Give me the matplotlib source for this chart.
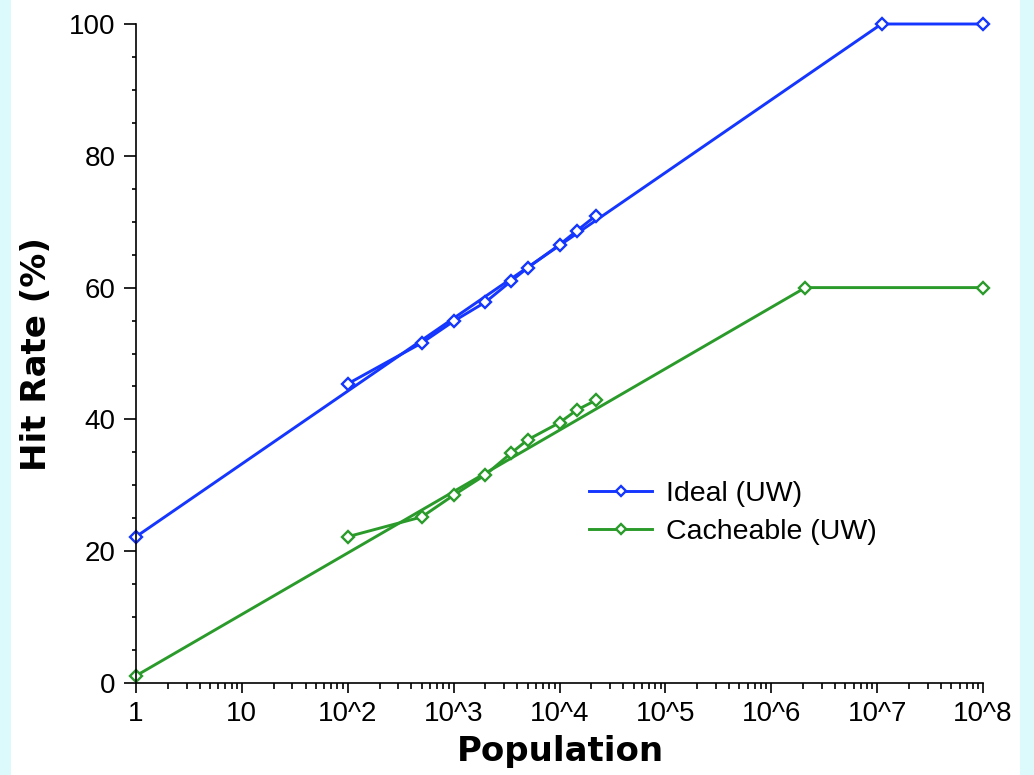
import matplotlib.pyplot as plt
import matplotlib.ticker as mticker
from matplotlib.patches import Rectangle
import numpy as np

# measured points (population, hit rate %)
pop = [100, 500, 1000, 2000, 3500, 5000, 10000, 14500, 22000]
ideal = [45.4, 51.6, 54.9, 57.8, 61.0, 63.0, 66.5, 68.6, 70.9]
cacheable = [22.2, 25.2, 28.5, 31.6, 34.9, 36.9, 39.5, 41.4, 42.9]

# fitted / extrapolated curves
ideal_fit_x = [1, 1.1e7, 1e8]
ideal_fit_y = [22.2, 100, 100]
cache_fit_x = [1, 2.1e6, 1e8]
cache_fit_y = [1.1, 60, 60]

xtick_vals = [1, 10, 1e2, 1e3, 1e4, 1e5, 1e6, 1e7, 1e8]
xtick_labels = ['1', '10', '10^2', '10^3', '10^4', '10^5', '10^6', '10^7', '10^8']

blue = '#1436ff'
green = '#2a9b2a'

fig = plt.figure(figsize=(10.34, 7.75), dpi=100, facecolor='#dcfafc')
fig.add_artist(Rectangle((11/1034, 0), (1020-11)/1034, 1, transform=fig.transFigure,
                         facecolor='white', edgecolor='none', zorder=-5))
ax = fig.add_axes([136/1034, 1-683/775, (983-136)/1034, (683-24)/775])
ax.set_facecolor('white')

mk = dict(marker='D', markersize=6.3, markerfacecolor='white', markeredgewidth=1.7, linewidth=2.1, clip_on=False)
ax.plot(ideal_fit_x, ideal_fit_y, color=blue, **mk)
ax.plot(pop, ideal, color=blue, label='Ideal (UW)', **mk)
ax.plot(cache_fit_x, cache_fit_y, color=green, **mk)
ax.plot(pop, cacheable, color=green, label='Cacheable (UW)', **mk)

ax.set_xscale('log')
ax.set_xlim(1, 1e8)
ax.set_ylim(0, 100)
ax.set_xticks(xtick_vals)
ax.set_xticklabels(xtick_labels)
ax.xaxis.set_minor_locator(mticker.LogLocator(base=10, subs=np.arange(2, 10), numticks=20))
ax.xaxis.set_minor_formatter(mticker.NullFormatter())
ax.set_yticks([0, 20, 40, 60, 80, 100])
ax.yaxis.set_minor_locator(mticker.MultipleLocator(5))

for s in ['top', 'right']:
    ax.spines[s].set_visible(False)
for s in ['left', 'bottom']:
    ax.spines[s].set_linewidth(1.2)

ax.tick_params(axis='y', which='major', length=8.5, width=1.2, pad=6, labelsize=20)
ax.tick_params(axis='y', which='minor', length=3, width=1.2)
ax.tick_params(axis='x', which='major', length=7, width=1.2, pad=6, labelsize=20)
ax.tick_params(axis='x', which='minor', length=4, width=1.2)
for lab in ax.get_xticklabels() + ax.get_yticklabels():
    lab.set_fontfamily('Liberation Sans')

fig.text(560/1034, 1-752/775, 'Population', ha='center', va='center',
         fontsize=24.5, fontweight='bold', family='DejaVu Sans')
fig.text(37/1034, 1-354/775, 'Hit Rate (%)', ha='center', va='center', rotation=90,
         fontsize=24.5, fontweight='bold', family='DejaVu Sans')

ax.legend(loc='center left', bbox_to_anchor=(575/1034, 1-513/775), bbox_transform=fig.transFigure,
          frameon=False, prop={'family': 'Liberation Sans', 'size': 20.5}, handlelength=2.2,
          handletextpad=0.5, labelspacing=0.45, borderpad=0, markerscale=0.8)

fig.savefig('out.png', dpi=100, facecolor=fig.get_facecolor())
